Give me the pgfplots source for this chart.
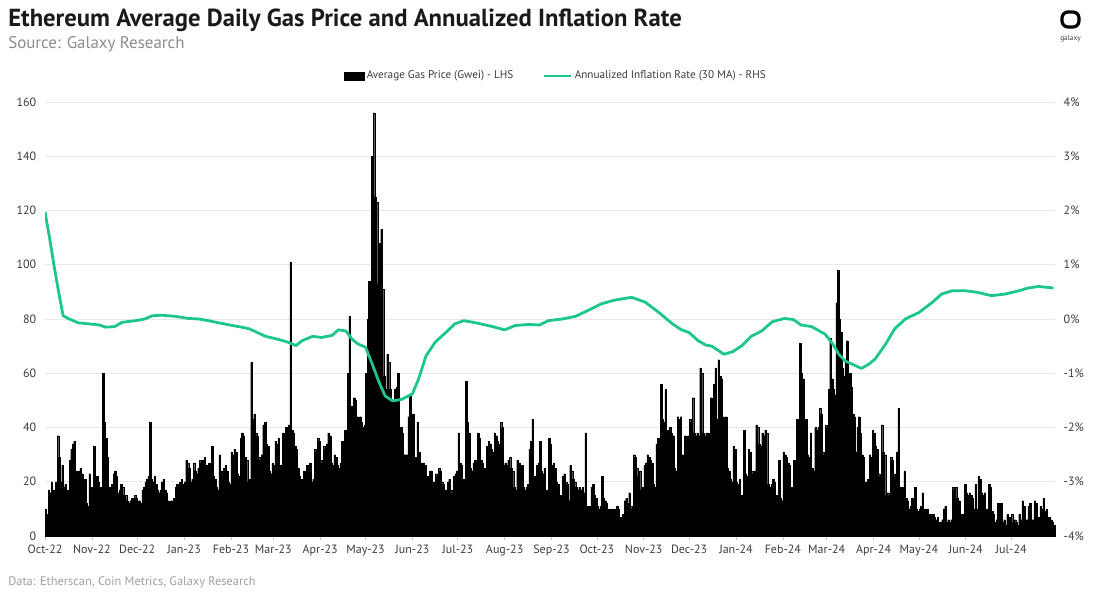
\documentclass[border=0pt]{standalone}
\usepackage{fontspec}
\setmainfont{PT Sans}
\usepackage{pgfplots}
\usepackage{pgfplotstable}
\pgfplotsset{compat=1.18}
\definecolor{galgreen}{RGB}{29,198,140}
\definecolor{titlec}{RGB}{26,26,26}
\definecolor{subc}{RGB}{140,140,140}
\definecolor{footc}{RGB}{160,160,160}
\definecolor{tickc}{RGB}{60,60,60}
\definecolor{gridc}{RGB}{232,232,232}

% daily average gas price (Gwei), day 0 = 1 Oct 2022; last row closes the final interval
\pgfplotstableread[header=false,row sep=\\]{
10\\8\\17\\16\\20\\17\\13\\20\\37\\29\\
20\\26\\18\\19\\17\\17\\28\\32\\34\\35\\
24\\18\\24\\25\\23\\20\\21\\12\\11\\23\\
18\\17\\33\\21\\22\\20\\18\\17\\60\\42\\
36\\29\\18\\17\\19\\23\\24\\22\\16\\17\\
19\\18\\15\\15\\13\\12\\13\\14\\14\\15\\
14\\13\\13\\12\\17\\18\\20\\21\\22\\42\\
21\\20\\22\\19\\17\\16\\17\\20\\21\\17\\
16\\13\\12\\13\\13\\14\\18\\19\\18\\20\\
21\\19\\20\\28\\27\\25\\20\\21\\27\\24\\
23\\25\\28\\27\\28\\29\\26\\25\\27\\26\\
33\\22\\21\\18\\17\\30\\24\\23\\25\\26\\
24\\20\\19\\31\\30\\32\\31\\23\\22\\36\\
38\\37\\29\\28\\20\\21\\64\\43\\45\\38\\
37\\29\\28\\30\\41\\42\\34\\33\\24\\23\\
27\\26\\35\\34\\36\\26\\25\\38\\37\\40\\
39\\41\\101\\39\\38\\33\\32\\25\\22\\21\\
20\\24\\23\\26\\25\\27\\20\\21\\32\\31\\
36\\35\\28\\27\\33\\32\\34\\38\\37\\27\\
26\\30\\29\\26\\25\\27\\35\\34\\39\\38\\
60\\81\\48\\47\\51\\50\\44\\43\\44\\42\\
40\\41\\60\\80\\94\\85\\140\\156\\125\\123\\
93\\108\\113\\91\\59\\54\\67\\64\\54\\50\\
43\\54\\55\\60\\40\\40\\38\\30\\30\\30\\
44\\52\\44\\45\\28\\29\\42\\31\\27\\27\\
27\\26\\21\\22\\24\\24\\20\\20\\23\\22\\
25\\24\\20\\19\\17\\17\\20\\21\\17\\16\\
22\\23\\24\\38\\27\\26\\21\\20\\57\\42\\
38\\25\\24\\27\\28\\26\\38\\36\\28\\27\\
25\\24\\33\\35\\34\\32\\31\\38\\37\\35\\
34\\42\\40\\26\\27\\26\\28\\29\\25\\24\\
18\\17\\28\\27\\25\\26\\18\\17\\18\\19\\
32\\35\\43\\22\\20\\26\\27\\35\\24\\23\\
25\\17\\16\\36\\34\\26\\27\\25\\20\\19\\
14\\15\\22\\23\\20\\19\\13\\26\\24\\21\\
20\\18\\17\\18\\17\\18\\16\\38\\11\\10\\
11\\18\\19\\15\\14\\11\\10\\11\\22\\14\\
13\\12\\10\\9\\10\\9\\10\\9\\11\\10\\
7\\7\\8\\13\\14\\12\\16\\11\\10\\30\\
29\\25\\22\\24\\17\\18\\26\\27\\30\\29\\
28\\27\\19\\18\\34\\36\\35\\56\\43\\42\\
54\\39\\38\\40\\38\\37\\25\\24\\44\\43\\
44\\30\\29\\37\\36\\37\\43\\42\\51\\38\\
37\\38\\37\\62\\60\\38\\37\\38\\38\\36\\
51\\50\\56\\62\\43\\65\\59\\58\\44\\43\\
44\\25\\24\\21\\20\\33\\32\\20\\19\\21\\
15\\14\\39\\23\\22\\32\\31\\24\\23\\24\\
41\\40\\34\\33\\38\\37\\39\\38\\19\\18\\
19\\21\\20\\15\\14\\28\\14\\13\\31\\30\\
29\\27\\26\\18\\17\\28\\27\\43\\42\\71\\
60\\58\\38\\43\\30\\29\\38\\25\\24\\40\\
39\\40\\47\\45\\31\\30\\41\\40\\54\\73\\
58\\54\\52\\86\\98\\80\\75\\62\\59\\65\\
72\\58\\60\\55\\45\\44\\31\\40\\44\\38\\
30\\29\\20\\19\\21\\30\\29\\39\\38\\33\\
32\\23\\22\\41\\31\\30\\15\\16\\15\\29\\
28\\23\\22\\31\\47\\18\\17\\18\\24\\14\\
13\\10\\11\\14\\13\\18\\10\\9\\10\\11\\
16\\10\\9\\10\\7\\8\\7\\8\\7\\6\\
7\\5\\5\\6\\10\\11\\5\\6\\5\\6\\
18\\17\\18\\14\\13\\7\\8\\7\\19\\16\\
15\\16\\15\\14\\10\\19\\10\\22\\21\\16\\
15\\16\\10\\9\\19\\18\\9\\8\\5\\6\\
12\\11\\12\\5\\6\\4\\8\\7\\7\\8\\
5\\6\\5\\4\\8\\6\\13\\11\\6\\6\\
11\\12\\6\\6\\13\\12\\7\\7\\11\\10\\
14\\9\\10\\7\\7\\6\\5\\4\\0\\
}\gasdata

\begin{document}
\begin{tikzpicture}[x=0.75pt,y=0.75pt]
\path[use as bounding box] (0,0) rectangle (1100,594);

% titles
\node[anchor=base west, inner sep=0pt, text=titlec, font=\fontsize{18.5}{20}\selectfont\bfseries] at (8,567) {Ethereum Average Daily Gas Price and Annualized Inflation Rate};
\node[anchor=base west, inner sep=0pt, text=subc, font=\fontsize{12.7}{14}\selectfont] at (8,545) {Source: Galaxy Research};
\node[anchor=base west, inner sep=0pt, text=footc, font=\fontsize{9.3}{10}\selectfont] at (8,9) {Data: Etherscan, Coin Metrics, Galaxy Research};

% logo
\draw[line width=2.4pt, rounded corners=4.5pt] (1062,567) rectangle (1079,582);
\node[anchor=base, inner sep=0pt, font=\fontsize{5.5}{6}\selectfont, text=tickc] at (1070.5,553) {galaxy};

\begin{axis}[
  at={(33.75pt,43.5pt)}, anchor=south west,
  scale only axis, width=757.5pt, height=325.5pt,
  xmin=0, xmax=668, ymin=0, ymax=160,
  axis x line*=bottom, axis y line*=left,
  x axis line style={draw=black!22, -},
  y axis line style={draw=none},
  ytick={0,20,...,160},
  ymajorgrids, grid style={draw=gridc, line width=0.7pt},
  major y tick style={draw=none},
  xtick={0,31,61,92,123,151,182,212,243,273,304,335,365,396,426,457,488,517,548,578,609,639},
  xticklabels={Oct-22,Nov-22,Dec-22,Jan-23,Feb-23,Mar-23,Apr-23,May-23,Jun-23,Jul-23,Aug-23,Sep-23,Oct-23,Nov-23,Dec-23,Jan-24,Feb-24,Mar-24,Apr-24,May-24,Jun-24,Jul-24},
  major x tick style={draw=black!22, line width=0.5pt},
  xtick align=outside, major tick length=3pt,
  tick label style={font=\fontsize{9}{10}\selectfont, text=tickc},
  /pgf/number format/assume math mode=true,
  yticklabel style={xshift=-3pt},
  clip=false,
]
\addplot[ybar interval, fill=black, draw=black, line width=0.15pt]
  table[x expr=\coordindex, y index=0] {\gasdata};
\end{axis}

\begin{axis}[
  at={(33.75pt,43.5pt)}, anchor=south west,
  scale only axis, width=757.5pt, height=325.5pt,
  xmin=0, xmax=668, ymin=-4, ymax=4,
  axis x line=none, axis y line*=right,
  y axis line style={draw=none},
  ytick={-4,-3,-2,-1,0,1,2,3,4},
  yticklabels={-4\%,-3\%,-2\%,-1\%,0\%,1\%,2\%,3\%,4\%},
  major y tick style={draw=none},
  yticklabel style={font=\fontsize{9}{10}\selectfont, text=tickc, xshift=3pt},
  legend style={at={(0.506,1.06)}, anchor=center, draw=none, fill=none,
    legend columns=2, font=\fontsize{8.4}{9}\selectfont, text=tickc,
    /tikz/every even column/.append style={column sep=20pt}},
  legend cell align=left,
]
\addlegendimage{legend image code/.code={\fill[black] (0pt,-3pt) rectangle (15pt,3pt);}}
\addlegendentry{Average Gas Price (Gwei) - LHS}
\addplot[galgreen, line width=2.1pt, line join=round,
  legend image code/.code={\draw[galgreen, line width=2pt] (0pt,0pt) -- (20pt,0pt);}]
coordinates {
(0,1.97)(3,1.50)(6,0.98)(9,0.50)(12,0.06)(16,0.00)(22,-0.07)(29,-0.09)(36,-0.11)(40,-0.15)
(46,-0.14)(51,-0.06)(60,-0.03)(66,0.00)(71,0.06)(77,0.07)(86,0.05)(95,0.01)(102,0.00)(108,-0.03)
(113,-0.06)(124,-0.12)(130,-0.15)(135,-0.18)(146,-0.32)(155,-0.38)(161,-0.43)(166,-0.49)(170,-0.40)(177,-0.32)
(183,-0.34)(190,-0.30)(194,-0.20)(199,-0.22)(203,-0.37)(207,-0.46)(212,-0.52)(216,-0.80)(221,-1.17)(225,-1.42)
(230,-1.51)(236,-1.48)(243,-1.38)(247,-1.11)(252,-0.68)(258,-0.43)(265,-0.25)(271,-0.09)(277,-0.03)(285,-0.07)
(296,-0.14)(304,-0.20)(311,-0.12)(320,-0.10)(327,-0.11)(333,-0.03)(342,0.00)(351,0.05)(360,0.17)(368,0.28)
(377,0.35)(388,0.40)(397,0.31)(406,0.12)(415,-0.09)(421,-0.20)(426,-0.25)(432,-0.40)(437,-0.48)(441,-0.50)
(449,-0.65)(455,-0.60)(461,-0.49)(467,-0.32)(474,-0.22)(481,-0.05)(489,0.01)(495,-0.01)(500,-0.11)(507,-0.14)
(516,-0.28)(521,-0.46)(525,-0.65)(529,-0.77)(536,-0.86)(540,-0.91)(545,-0.83)(549,-0.74)(556,-0.46)(562,-0.18)
(569,0.00)(578,0.12)(587,0.31)(593,0.46)(600,0.52)(609,0.52)(617,0.49)(626,0.43)(635,0.46)(644,0.52)
(650,0.57)(657,0.60)(664,0.58)(667,0.57)
};
\addlegendentry{Annualized Inflation Rate (30 MA) - RHS}
\end{axis}
\end{tikzpicture}
\end{document}
